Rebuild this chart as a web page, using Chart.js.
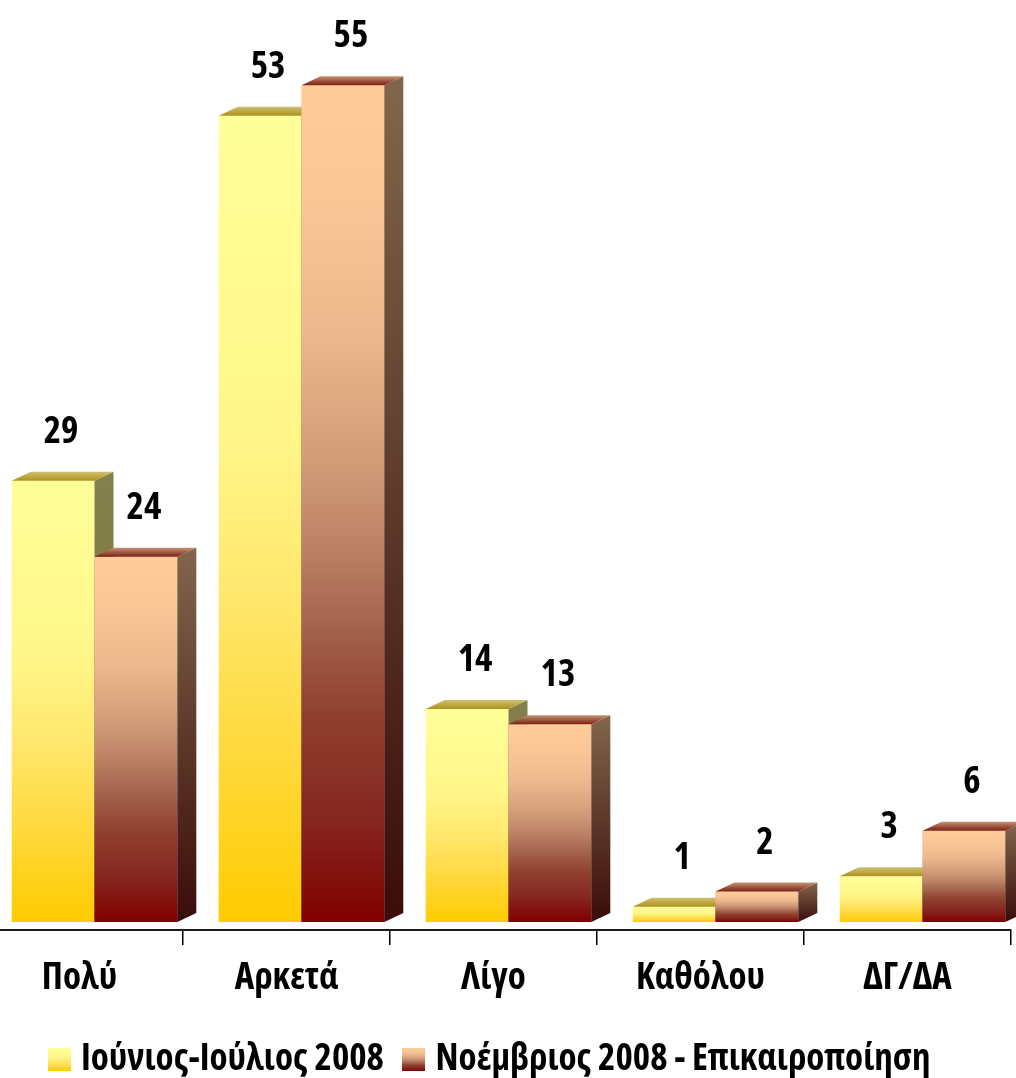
<!DOCTYPE html>
<html>
<head>
<meta charset="utf-8">
<script src="https://cdn.jsdelivr.net/npm/chart.js@4.4.1/dist/chart.umd.min.js"></script>
<style>
html, body { margin: 0; padding: 0; background: #ffffff; overflow: hidden; width: 1016px; height: 1078px; }
#wrap { position: absolute; left: -24px; top: 0; width: 1040px; height: 1088px; }
</style>
</head>
<body>
<div id="wrap"><canvas id="c"></canvas></div>
<script>
// ---- data ----
const categories = ['Πολύ', 'Αρκετά', 'Λίγο', 'Καθόλου', 'ΔΓ/ΔΑ'];
const seriesNames = ['Ιούνιος-Ιούλιος 2008', 'Νοέμβριος 2008 - Επικαιροποίηση'];
const juneJuly2008 = [29, 53, 14, 1, 3];
const november2008 = [24, 55, 13, 2, 6];

// ---- styles ----
const FAMILY = "'Open Sans', 'DejaVu Sans Condensed', sans-serif";
const WEIGHT = 'bold condensed';
const frontStops = [
  [[0, '#ffff99'], [0.4, '#fff689'], [0.6, '#ffe76c'], [0.8, '#ffd83a'], [1, '#ffcc00']],
  [[0, '#ffcc99'], [0.15, '#fac595'], [0.3, '#ecb78c'], [0.45, '#d29c78'], [0.55, '#bc8266'],
   [0.65, '#a3624c'], [0.75, '#90402f'], [0.87, '#862820'], [1, '#800000']]
];
const topGrad = [['#ccc070', '#b0921a'], ['#c29474', '#7e1e12']];
const sideGrad = [['#83814f', '#7a6a18'], ['#82664c', '#3a0c0a']];
const DX = 19, DY = 9;

function addStops(g, idx) {
  frontStops[idx].forEach(s => g.addColorStop(s[0], s[1]));
  return g;
}

function frontColor(idx) {
  return function (c) {
    const chart = c.chart;
    const ys = chart.scales && chart.scales.y;
    if (c.type !== 'data' || !ys || !c.parsed) return frontStops[idx][0][1];
    const top = ys.getPixelForValue(c.parsed.y);
    const base = ys.getPixelForValue(0);
    if (!isFinite(top) || !isFinite(base)) return frontStops[idx][0][1];
    return addStops(chart.ctx.createLinearGradient(0, top, 0, base), idx);
  };
}

function legendIcon(idx) {
  const cv = document.createElement('canvas');
  cv.width = 23; cv.height = 23;
  const x = cv.getContext('2d');
  x.fillStyle = addStops(x.createLinearGradient(0, 0, 0, 23), idx);
  x.fillRect(0, 0, 23, 23);
  return cv;
}
const icons = [legendIcon(0), legendIcon(1)];

function drawFaces(ctx, meta) {
  const i = meta.index;
  meta.data.forEach(el => {
    const p = el.getProps(['x', 'y', 'base', 'width'], true);
    const l = p.x - p.width / 2, r = p.x + p.width / 2, y = p.y, b = p.base;
    let g = ctx.createLinearGradient(0, y - DY, 0, b);
    g.addColorStop(0, sideGrad[i][0]);
    g.addColorStop(1, sideGrad[i][1]);
    ctx.fillStyle = g;
    ctx.beginPath();
    ctx.moveTo(r, y); ctx.lineTo(r + DX, y - DY); ctx.lineTo(r + DX, b - DY); ctx.lineTo(r, b);
    ctx.closePath(); ctx.fill();
    g = ctx.createLinearGradient(0, y - DY, 0, y);
    g.addColorStop(0, topGrad[i][0]);
    g.addColorStop(1, topGrad[i][1]);
    ctx.fillStyle = g;
    ctx.beginPath();
    ctx.moveTo(l, y); ctx.lineTo(l + DX, y - DY); ctx.lineTo(r + DX, y - DY); ctx.lineTo(r, y);
    ctx.closePath(); ctx.fill();
  });
}

// draws the depth faces; the second series' front is re-drawn so it sits in front of the first series' side
const bar3d = {
  id: 'bar3d',
  afterDatasetsDraw(chart) {
    const ctx = chart.ctx;
    ctx.save();
    const m0 = chart.getDatasetMeta(0), m1 = chart.getDatasetMeta(1);
    drawFaces(ctx, m0);
    m1.data.forEach(el => el.draw(ctx, chart.chartArea));
    drawFaces(ctx, m1);
    ctx.restore();
  }
};

const valueLabels = {
  id: 'valueLabels',
  afterDatasetsDraw(chart) {
    const ctx = chart.ctx;
    ctx.save();
    ctx.font = WEIGHT + ' 37px ' + FAMILY;
    ctx.fillStyle = '#000';
    ctx.textAlign = 'center';
    ctx.textBaseline = 'alphabetic';
    chart.data.datasets.forEach((ds, di) => {
      const meta = chart.getDatasetMeta(di);
      meta.data.forEach((el, k) => {
        const p = el.getProps(['x', 'y'], true);
        ctx.fillText(String(ds.data[k].y), p.x + 8, p.y - 38);
      });
    });
    ctx.restore();
  }
};

new Chart(document.getElementById('c'), {
  type: 'bar',
  data: {
    labels: categories,
    datasets: [
      { label: seriesNames[0], data: juneJuly2008.map((v, i) => ({ x: i, y: v })), backgroundColor: frontColor(0), borderWidth: 0, xAxisID: 'xb', yAxisID: 'y' },
      { label: seriesNames[1], data: november2008.map((v, i) => ({ x: i, y: v })), backgroundColor: frontColor(1), borderWidth: 0, xAxisID: 'xb', yAxisID: 'y' }
    ]
  },
  options: {
    responsive: true,
    maintainAspectRatio: false,
    animation: false,
    events: [],
    layout: { padding: { left: 0, right: 5, top: 0, bottom: 0 } },
    datasets: { bar: { categoryPercentage: 0.8, barPercentage: 1.0 } },
    scales: {
      x: {
        type: 'category',
        position: 'bottom',
        offset: true,
        grid: { display: true, offset: true, drawOnChartArea: false, drawTicks: true, tickLength: 15, color: '#000', lineWidth: 1.5 },
        border: { display: true, color: '#1a1a1a', width: 2 },
        ticks: { color: '#000', padding: 11, font: { family: FAMILY, size: 37, weight: WEIGHT }, maxRotation: 0, autoSkip: false },
        afterFit(scale) { scale.height = 84; }
      },
      xb: {
        type: 'linear',
        display: false,
        offset: false,
        min: -0.5725,
        max: 4.4275,
        grid: { display: false },
        afterBuildTicks(scale) { scale.ticks = categories.map((c, i) => ({ value: i })); }
      },
      y: {
        type: 'linear',
        display: false,
        min: -0.526,
        max: 60.6
      }
    },
    plugins: {
      tooltip: { enabled: false },
      legend: {
        display: true,
        position: 'bottom',
        labels: {
          usePointStyle: true,
          boxWidth: 6,
          padding: 27,
          color: '#000',
          font: { family: FAMILY, size: 37, weight: WEIGHT },
          generateLabels(chart) {
            return chart.data.datasets.map((ds, i) => ({
              text: ds.label, pointStyle: icons[i], fillStyle: 'rgba(0,0,0,0)', strokeStyle: 'rgba(0,0,0,0)',
              lineWidth: 0, hidden: false, datasetIndex: i, fontColor: '#000'
            }));
          }
        }
      }
    }
  },
  plugins: [bar3d, valueLabels]
});
</script>
</body>
</html>
